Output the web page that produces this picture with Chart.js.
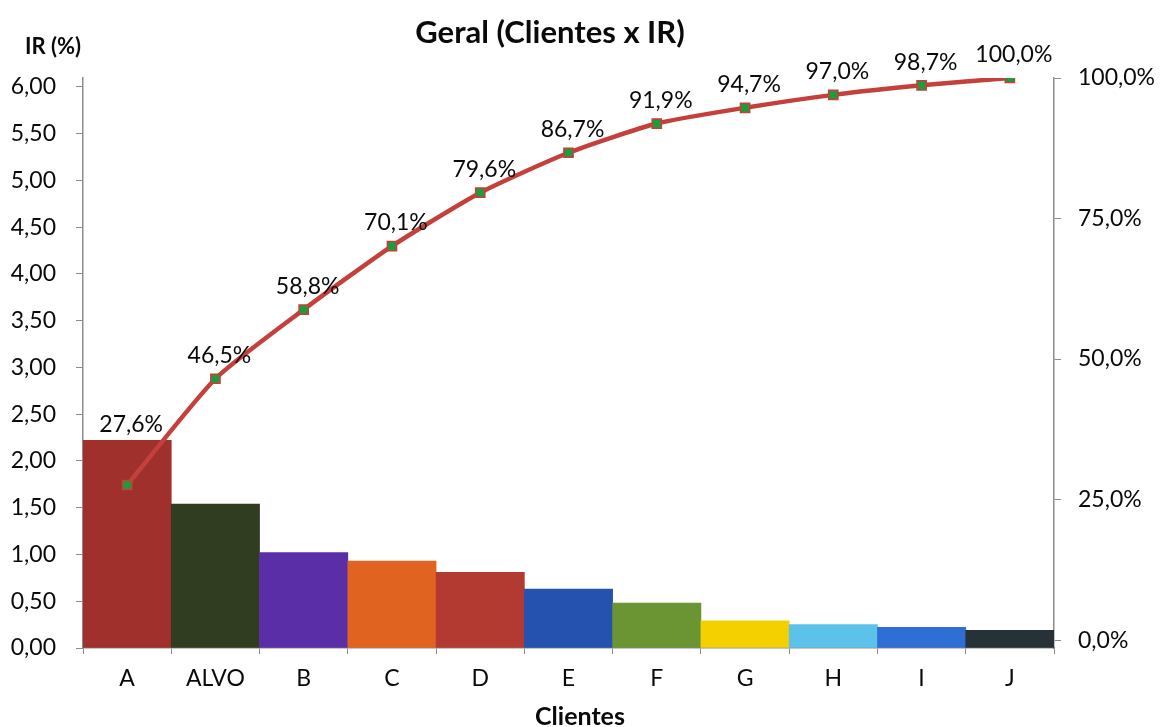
<!DOCTYPE html>
<html>
<head>
<meta charset="utf-8">
<script src="https://cdn.jsdelivr.net/npm/chart.js@4/dist/chart.umd.min.js"></script>
<style>
  html, body { margin: 0; padding: 0; background: #fff; }
  #wrap { width: 1160px; height: 727px; position: relative; }
</style>
</head>
<body>
<div id="wrap"><canvas id="pareto" width="1160" height="727"></canvas></div>
<script>
// data
const clientes = ['A', 'ALVO', 'B', 'C', 'D', 'E', 'F', 'G', 'H', 'I', 'J'];
const irValues = [2.22, 1.54, 1.02, 0.93, 0.81, 0.63, 0.48, 0.29, 0.25, 0.22, 0.19];
const acumulado = [27.6, 46.5, 58.8, 70.1, 79.6, 86.7, 91.9, 94.7, 97.0, 98.7, 100.0];
const leftTicks = [0, 0.5, 1, 1.5, 2, 2.5, 3, 3.5, 4, 4.5, 5, 5.5, 6];
const rightTicks = [0, 25, 50, 75, 100];

const barColors = ['#a0302c', '#303d20', '#5a2ea6', '#e0641f', '#b23a30', '#2452ae',
                   '#6a9532', '#f4d000', '#5cc2ea', '#2f6fd4', '#263238'];

const FONT = 'Lato, "Open Sans", sans-serif';
const axisGrey = '#8c8c8c';
const textCol = '#0a0a0a';

const fmtComma = (v, d) => v.toFixed(d).replace('.', ',');

// labels above the cumulative points, plus the free texts
const extras = {
    id: 'extras',
    afterDatasetsDraw(chart) {
        const ctx = chart.ctx;
        const lineMeta = chart.getDatasetMeta(1);
        const barMeta = chart.getDatasetMeta(0);
        ctx.save();
        ctx.fillStyle = textCol;
        ctx.font = '23px ' + FONT;
        ctx.textAlign = 'center';
        ctx.textBaseline = 'middle';
        lineMeta.data.forEach((pt, i) => {
            const barTop = barMeta.data[i].y;
            const y = Math.min(pt.y - 23, barTop - 16);
            ctx.fillText(fmtComma(acumulado[i], 1) + '%', pt.x + 4, y);
        });

        ctx.font = 'bold 31px ' + FONT;
        ctx.fillText('Geral (Clientes x IR)', 550, 33);
        ctx.font = 'bold 22px ' + FONT;
        ctx.fillText('IR (%)', 53, 47);
        ctx.font = 'bold 25px ' + FONT;
        ctx.fillText('Clientes', 580, 717);
        ctx.restore();
    }
};

new Chart(document.getElementById('pareto').getContext('2d'), {
    data: {
        labels: clientes,
        datasets: [{
            type: 'bar',
            data: irValues,
            backgroundColor: barColors,
            barPercentage: 1,
            categoryPercentage: 1,
            yAxisID: 'y',
            order: 2
        }, {
            type: 'line',
            data: acumulado,
            borderColor: '#c4403b',
            borderWidth: 4.5,
            tension: 0.2,
            pointStyle: 'rect',
            pointRadius: 6.5,
            pointBackgroundColor: '#1f9a3c',
            pointBorderColor: '#c4403b',
            pointBorderWidth: 1.5,
            yAxisID: 'y1',
            order: 1
        }]
    },
    options: {
        responsive: false,
        animation: false,
        layout: { padding: { top: 78, left: 0, right: 0, bottom: 0 } },
        plugins: {
            legend: { display: false },
            title: { display: false },
            tooltip: { enabled: false }
        },
        scales: {
            x: {
                grid: { offset: true, drawOnChartArea: false, tickLength: 6, color: axisGrey },
                border: { color: axisGrey, width: 1.5 },
                ticks: { padding: 11, color: textCol, font: { family: FONT, size: 23 } },
                afterFit: s => { s.height = 79; }
            },
            y: {
                position: 'left',
                min: 0,
                max: 6.096,
                afterBuildTicks: s => { s.ticks = leftTicks.map(v => ({ value: v })); },
                grid: { drawOnChartArea: false, tickLength: 7, color: axisGrey },
                border: { color: axisGrey, width: 1.5 },
                ticks: {
                    padding: 20,
                    color: textCol,
                    font: { family: FONT, size: 23 },
                    callback: v => fmtComma(v, 2)
                },
                afterFit: s => { s.width = 83; }
            },
            y1: {
                position: 'right',
                min: -1.4,
                max: 100,
                afterBuildTicks: s => { s.ticks = rightTicks.map(v => ({ value: v })); },
                grid: { drawOnChartArea: false, tickLength: 7, color: axisGrey },
                border: { color: axisGrey, width: 1.5 },
                ticks: {
                    padding: 17,
                    color: textCol,
                    font: { family: FONT, size: 23 },
                    callback: v => fmtComma(v, 1) + '%'
                },
                afterFit: s => { s.width = 106; }
            }
        }
    },
    plugins: [extras]
});
</script>
</body>
</html>
